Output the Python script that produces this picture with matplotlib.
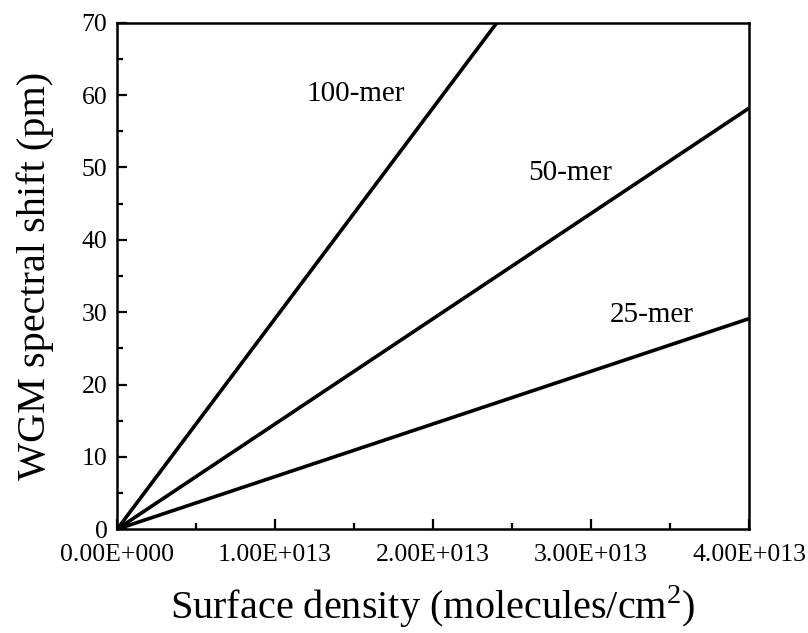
import numpy as np
import matplotlib
matplotlib.use('Agg')
import matplotlib.pyplot as plt
from matplotlib.ticker import MultipleLocator, FuncFormatter

# %% data
density = [0.0, 4.0e13]
shift_25 = [0.0, 29.1]
shift_50 = [0.0, 58.2]
shift_100 = [0.0, 116.5]

labels = ['25-mer', '50-mer', '100-mer']
label_x = [3.12e13, 2.6e13, 1.2e13]
label_y = [29.6, 49.3, 60.2]

# %%
plt.rcParams['font.family'] = ['Liberation Serif', 'DejaVu Serif']
plt.rcParams['mathtext.fontset'] = 'custom'
plt.rcParams['mathtext.rm'] = 'Liberation Serif'

fig = plt.figure(figsize=(8.08, 6.33), dpi=100)
ax = fig.add_axes([0.145, 0.164, 0.782, 0.800])

for ys in (shift_25, shift_50, shift_100):
    ax.plot(density, ys, color='black', lw=2.6, solid_capstyle='butt')

for t, x, y in zip(labels, label_x, label_y):
    ax.text(x, y, t, fontsize=21, va='center', ha='left')

ax.set_xlim(0, 4.0e13)
ax.set_ylim(0, 70)
ax.xaxis.set_major_locator(MultipleLocator(1e13))
ax.xaxis.set_minor_locator(MultipleLocator(0.5e13))
ax.yaxis.set_major_locator(MultipleLocator(10))
ax.yaxis.set_minor_locator(MultipleLocator(5))
ax.xaxis.set_major_formatter(FuncFormatter(lambda v, p: '%.2fE+%03d' % (v / 1e13 if v else 0, 13 if v else 0)))

ax.tick_params(which='both', direction='in', top=False, right=False, labelsize=18.5, width=1.6)
ax.tick_params(axis='x', which='major', length=7, pad=11)
ax.tick_params(axis='y', which='major', length=7, pad=7)
ax.tick_params(which='minor', length=4)
for s in ax.spines.values():
    s.set_linewidth(1.8)

ax.set_xlabel('Surface density (molecules/cm$^2$)', fontsize=29, labelpad=12)
ax.set_ylabel('WGM spectral shift (pm)', fontsize=29, labelpad=20)

fig.savefig('out.png', dpi=100)
